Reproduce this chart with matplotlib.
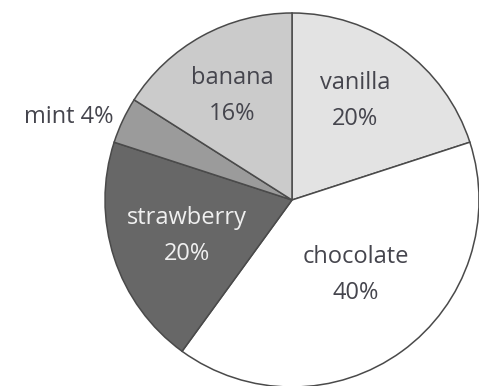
import matplotlib.pyplot as plt

# donnees du camembert (sens horaire depuis le haut)
parfums = ["vanilla", "chocolate", "strawberry", "mint", "banana"]
pourcentages = [20, 40, 20, 4, 16]
couleurs = ["#e3e3e3", "#ffffff", "#676767", "#9b9b9b", "#cbcbcb"]

plt.rcParams['font.family'] = ['Open Sans', 'DejaVu Sans']

W, H = 479, 386
fig = plt.figure(figsize=(W / 100, H / 100), dpi=100)
ax = fig.add_axes([0, 0, 1, 1])

cx, cy, r = 292, H - 200, 187
ax.pie(pourcentages, colors=couleurs, startangle=90, counterclock=False,
       center=(cx, cy), radius=r, frame=True,
       wedgeprops=dict(edgecolor="#4a4a4a", linewidth=1.1))
ax.set_xlim(0, W)
ax.set_ylim(0, H)
ax.set_aspect('equal')
ax.axis('off')

# etiquettes a l'interieur des parts
etiquettes = {
    "vanilla": (355, 101, "#45454d"),
    "chocolate": (356, 275, "#45454d"),
    "strawberry": (187, 236, "#f0f0f0"),
    "banana": (232, 96, "#45454d"),
}
for nom, pct in zip(parfums, pourcentages):
    if nom in etiquettes:
        x, y, c = etiquettes[nom]
        ax.text(x, H - y, f"{nom}\n{pct}%", ha="center", va="center",
                fontsize=17, color=c, linespacing=1.65)

# mint a l'exterieur
ax.text(114, H - 117, f"mint {pourcentages[3]}%", ha="right", va="center",
        fontsize=17, color="#45454d")

plt.savefig("out.png", dpi=100)
